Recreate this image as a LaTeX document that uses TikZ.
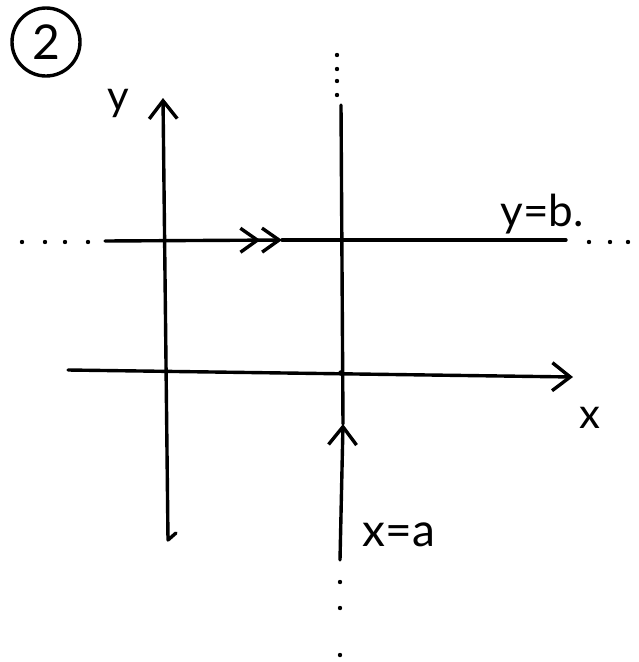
\documentclass[tikz,border=0pt]{standalone}
\usepackage{fontspec}
\setmainfont{Lato}
\usetikzlibrary{arrows.meta}

\tikzset{
  pen/.style={line width=3.4pt, line cap=round, line join=round},
  barb/.style={-{Straight Barb[length=18pt, width=28pt, line width=3.4pt]}},
  dbarb/.style={-{Straight Barb[length=17pt, width=24pt, line width=3.4pt] Straight Barb[length=17pt, width=24pt, line width=3.4pt]}},
  hand/.style={font=\fontsize{42}{44}\selectfont, inner sep=0pt},
}

\begin{document}
\begin{tikzpicture}[x=1pt, y=-1pt, pen]
  \useasboundingbox (0,0) rectangle (638,662);

  % Axis end points
  \coordinate (hook) at (176,533);   % little hook at foot of y axis
  \coordinate (yb) at (168,540);     % y axis foot
  \coordinate (yt) at (163,98);      % y axis tip
  \coordinate (xl) at (68,370);      % x axis start
  \coordinate (xr) at (573,377);     % x axis tip

  % Line x = a
  \coordinate (ab) at (340,560);     % bottom of solid part
  \coordinate (am) at (343,424);     % arrow on it
  \coordinate (at) at (341,105);     % top of solid part
  \coordinate (o) at (341,373);      % where it meets the x axis

  % Line y = b
  \coordinate (bl) at (105,241);     % left end of solid part
  \coordinate (bm) at (282,240);     % double arrow on it
  \coordinate (br) at (566,240);     % right end of solid part

  % Circled number
  \node[draw, circle, pen, minimum size=68pt, font=\fontsize{48}{50}\selectfont,
        inner sep=0pt] (num) at (46,42) {2};

  % Axes
  \draw[barb] (hook) -- (yb) -- (yt);
  \draw[barb] (xl) -- (xr);
  \node[hand, anchor=base] (ylab) at (118,110) {y};
  \node[hand, anchor=base] (xlab) at (590,428) {x};

  % Vertical line with upward arrow
  \draw[barb] (ab) -- (am);
  \draw (am) -- (at);
  \fill (o) circle (2.8pt);
  \node[hand, anchor=base west, font=\fontsize{46}{48}\selectfont] (alab) at (361,546) {x=a};

  % Horizontal line with double arrow
  \draw[dbarb] (bl) -- (bm);
  \draw (bm) -- (br);
  \node[hand, anchor=base west, font=\fontsize{44}{46}\selectfont] (blab) at (499,226) {y=b.};

  % Dots where the lines go on
  \foreach \x in {22,45,65,88} {
    \fill (\x,242) circle (2.2pt);
  }
  \foreach \x in {589,610,628} {
    \fill (\x,242) circle (2.2pt);
  }
  \foreach \y in {55,69,81,95} {
    \fill (337,\y) circle (2.2pt);
  }
  \foreach \y in {582,608,655} {
    \fill (340,\y) circle (2.2pt);
  }
\end{tikzpicture}
\end{document}
